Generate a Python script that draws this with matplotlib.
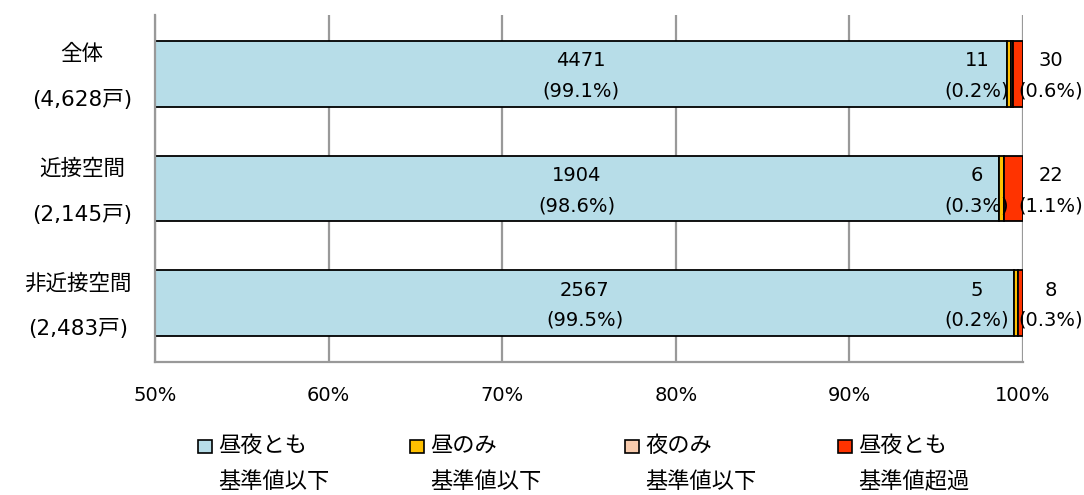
import matplotlib
matplotlib.use("Agg")
import matplotlib.pyplot as plt
import numpy as np
from matplotlib.patches import Rectangle

plt.rcParams['font.family'] = ['DejaVu Sans', 'Noto Sans CJK JP']

# ---- data ----
categories = ["全体", "近接空間", "非近接空間"]
households = ["(4,628戸)", "(2,145戸)", "(2,483戸)"]
series_names = ["昼夜とも\n基準値以下", "昼のみ\n基準値以下", "夜のみ\n基準値以下", "昼夜とも\n基準値超過"]
both_below_pct = [99.1, 98.6, 99.5]
day_only_pct = [0.2, 0.3, 0.2]
night_only_pct = [0.1, 0.0, 0.0]
both_over_pct = [0.6, 1.1, 0.3]
both_below_n = [4471, 1904, 2567]
day_only_n = [11, 6, 5]
both_over_n = [30, 22, 8]
xticks = [50, 60, 70, 80, 90, 100]
xticklabels = ["50%", "60%", "70%", "80%", "90%", "100%"]

colors = ["#B7DDE8", "#FFC000", "#F8CBAD", "#FF3300"]

W, H = 1084, 495
fig = plt.figure(figsize=(W / 100, H / 100), dpi=100)
ax = fig.add_axes([155 / W, 1 - 362 / H, (1023 - 155) / W, (362 - 15) / H])

y = np.arange(len(categories))
series = [both_below_pct, day_only_pct, night_only_pct, both_over_pct]
left = np.zeros(len(categories))
for vals, c in zip(series, colors):
    vals = np.array(vals)
    ax.barh(y, vals, left=left, height=0.576, color=c, edgecolor="black",
            linewidth=1.3, zorder=2)
    left += vals

ax.set_xlim(50, 100)
ax.set_ylim(2.515, -0.515)
ax.set_xticks(xticks)
ax.set_xticklabels(xticklabels, fontsize=14)
ax.tick_params(axis="x", length=0, pad=17)
ax.set_yticks([])
ax.grid(axis="x", color="#999999", linewidth=1.6, zorder=0)
for s in ["top", "right"]:
    ax.spines[s].set_visible(False)
for s in ["left", "bottom"]:
    ax.spines[s].set_color("#999999")
    ax.spines[s].set_linewidth(1.6)
    ax.spines[s].set_zorder(3)

def two_line(xv, yi, top, bottom, up=-13, down=17):
    ax.annotate(top, (xv, yi), xytext=(0, -up), textcoords="offset pixels",
                ha="center", va="center", fontsize=14, annotation_clip=False, zorder=4)
    ax.annotate(bottom, (xv, yi), xytext=(0, -down), textcoords="offset pixels",
                ha="center", va="center", fontsize=14, annotation_clip=False, zorder=4)

for i in range(len(categories)):
    two_line((50 + both_below_pct[i]) / 2, i, str(both_below_n[i]), f"({both_below_pct[i]:.1f}%)")
    two_line(97.35, i, str(day_only_n[i]), f"({day_only_pct[i]:.1f}%)")
    two_line(101.6, i, str(both_over_n[i]), f"({both_over_pct[i]:.1f}%)")
    ax.annotate(f"{categories[i]}\n{households[i]}", (50, i), xytext=(-23, -3),
                textcoords="offset pixels", ha="right", va="center",
                multialignment="center", fontsize=15.5, linespacing=2.6,
                annotation_clip=False)

# ---- legend (manual, Excel style) ----
marker_x = [198, 410, 625, 838]
for mx, c, name in zip(marker_x, colors, series_names):
    fig.patches.append(Rectangle((mx / W, 1 - 453 / H), 14 / W, 13 / H,
                                 facecolor=c, edgecolor="black", linewidth=1.2,
                                 transform=fig.transFigure, figure=fig))
    l1, l2 = name.split("\n")
    fig.text((mx + 20) / W, 1 - 446 / H, l1, ha="left", va="center", fontsize=16)
    fig.text((mx + 20) / W, 1 - 482 / H, l2, ha="left", va="center", fontsize=16)

fig.savefig("out.png", dpi=100)
